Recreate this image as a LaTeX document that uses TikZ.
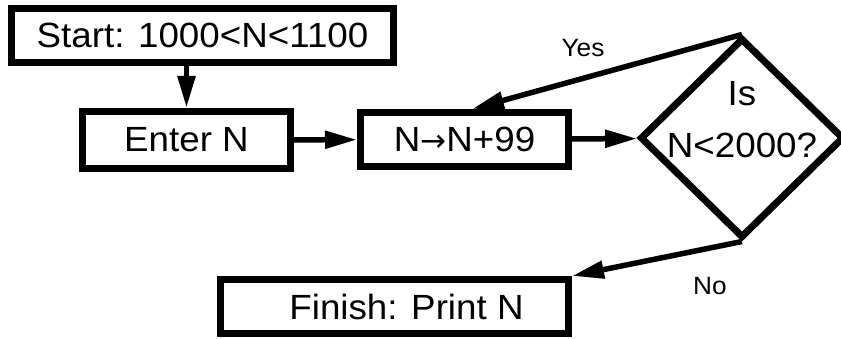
\documentclass[tikz,border=0pt]{standalone}
\usepackage{fontspec}
\setmainfont{Liberation Sans}[FakeStretch=1.05]
\newfontfamily\arrowfont{DejaVu Sans}
\usetikzlibrary{shapes.geometric,arrows.meta}
\begin{document}
\begin{tikzpicture}[x=1pt,y=-1pt,
  box/.style={draw,line width=7pt,inner sep=0pt,minimum height=54pt,
    font=\fontsize{35pt}{42pt}\selectfont},
  flow/.style={line width=5.5pt,-{Triangle[length=32pt,width=17pt]}},
  lbl/.style={font=\fontsize{25pt}{30pt}\selectfont}]
\useasboundingbox (0,0) rectangle (841,339);
\node[box,minimum width=382pt] (start) at (202.5,35.5) {Start: 1000<N<1100};
\node[box,minimum width=208pt,minimum height=57pt] (enter) at (186.5,140) {Enter N};
\node[box,minimum width=208pt] (upd) at (464.5,139.5) {N{\arrowfont\fontsize{31pt}{40pt}\selectfont →}N+99};
\node[draw,diamond,line width=7pt,inner sep=0pt,minimum width=204pt,minimum height=200pt] (dec) at (742,138) {};
\node[align=center,inner sep=0pt,font=\fontsize{35pt}{52pt}\selectfont] (dectext) at (742,120) {Is\\N<2000?};
\node[box,minimum width=348pt] (fin) at (394.5,306.5) {\hspace*{24pt}Finish: Print N};
\draw[flow] (start.south -| enter.north) -- (enter.north);
\draw[flow] (enter) -- (upd);
\draw[flow] (upd) -- (dec);
\draw[flow] (dec.north) -- ([xshift=7.5pt]upd.north);
\draw[flow] (dec.south) -- (fin.north east);
\node[lbl] (yes) at (583,48) {Yes};
\node[lbl] (no) at (710,286) {No};
\end{tikzpicture}
\end{document}
